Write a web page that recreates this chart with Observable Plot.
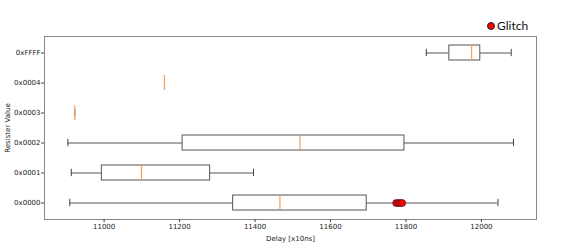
<!DOCTYPE html>
<html>
<head>
<meta charset="utf-8">
<script src="https://cdn.jsdelivr.net/npm/d3@7"></script>
<script src="https://cdn.jsdelivr.net/npm/@observablehq/plot@0.6"></script>
<style>
  body { margin: 0; background: #fff; }
  #wrap { position: relative; width: 574px; height: 249px; }
  #legend { position: absolute; left: 487px; top: 18px; font: 12px Lato, "Open Sans", sans-serif; color: #111; display: flex; align-items: center; gap: 2px; }
  #legend span.dot { width: 8px; height: 8px; border-radius: 50%; background: #f00; border: 0.8px solid #222; box-sizing: border-box; display: inline-block; }
</style>
</head>
<body>
<div id="wrap">
  <div id="chart"></div>
  <div id="legend"><span class="dot"></span><span>Glitch</span></div>
</div>
<script>
const registers = ["0xFFFF", "0x0004", "0x0003", "0x0002", "0x0001", "0x0000"];
const whiskerLow  = [11854, 11160, 10922, 10904, 10913, 10909];
const q1          = [11915, 11160, 10922, 11208, 10994, 11342];
const median      = [11974, 11160, 10922, 11519, 11099, 11466];
const q3          = [11997, 11160, 10922, 11796, 11281, 11696];
const whiskerHigh = [12079, 11160, 10922, 12085, 11396, 12044];

const glitchRegister = ["0x0000", "0x0000", "0x0000", "0x0000"];
const glitchDelay = [11774, 11780, 11785, 11790];

const xTicks = [11000, 11200, 11400, 11600, 11800, 12000];

const boxes = registers.map((r, i) => ({
  r, lo: whiskerLow[i], q1: q1[i], med: median[i], q3: q3[i], hi: whiskerHigh[i]
}));
const glitches = glitchDelay.map((d, i) => ({ r: glitchRegister[i], d }));

const bandwidth = 183 / 6 * 0.5;
const capInset = bandwidth / 4;

const chart = Plot.plot({
  width: 574,
  height: 249,
  marginLeft: 44,
  marginRight: 38,
  marginTop: 36,
  marginBottom: 30,
  style: { fontFamily: "'DejaVu Sans', sans-serif", fontSize: "7px", color: "#222", background: "#fff" },
  x: { domain: [10842, 12146], ticks: xTicks, tickFormat: d => String(d) },
  y: { domain: registers, type: "band", paddingInner: 0.5, paddingOuter: 0.25 },
  marks: [
    Plot.frame({ stroke: "#888", strokeWidth: 1 }),
    Plot.axisX({ ticks: xTicks, tickFormat: d => String(d), tickSize: 3, tickPadding: 2, label: "Delay [x10ns]", labelAnchor: "center", labelOffset: 21, labelArrow: "none", stroke: "#444" }),
    Plot.axisY({ tickSize: 3, tickPadding: 1, label: "Resister Value", labelAnchor: "center", labelOffset: 39, labelArrow: "none", stroke: "#444" }),
    Plot.ruleY(boxes, { y: "r", x1: "lo", x2: "q1", stroke: "#555", strokeWidth: 1 }),
    Plot.ruleY(boxes, { y: "r", x1: "q3", x2: "hi", stroke: "#555", strokeWidth: 1 }),
    Plot.tickX(boxes, { x: "lo", y: "r", insetTop: capInset, insetBottom: capInset, stroke: "#444", strokeWidth: 1 }),
    Plot.tickX(boxes, { x: "hi", y: "r", insetTop: capInset, insetBottom: capInset, stroke: "#444", strokeWidth: 1 }),
    Plot.barX(boxes, { x1: "q1", x2: "q3", y: "r", fill: "#fff", stroke: "#555", strokeWidth: 1 }),
    Plot.tickX(boxes, { x: "med", y: "r", stroke: "#f0a060", strokeWidth: 1.2 }),
    Plot.dot(glitches, { x: "d", y: "r", r: 3.5, fill: "#f00", stroke: "#222", strokeWidth: 0.6 })
  ]
});
document.getElementById("chart").appendChild(chart);
</script>
</body>
</html>
